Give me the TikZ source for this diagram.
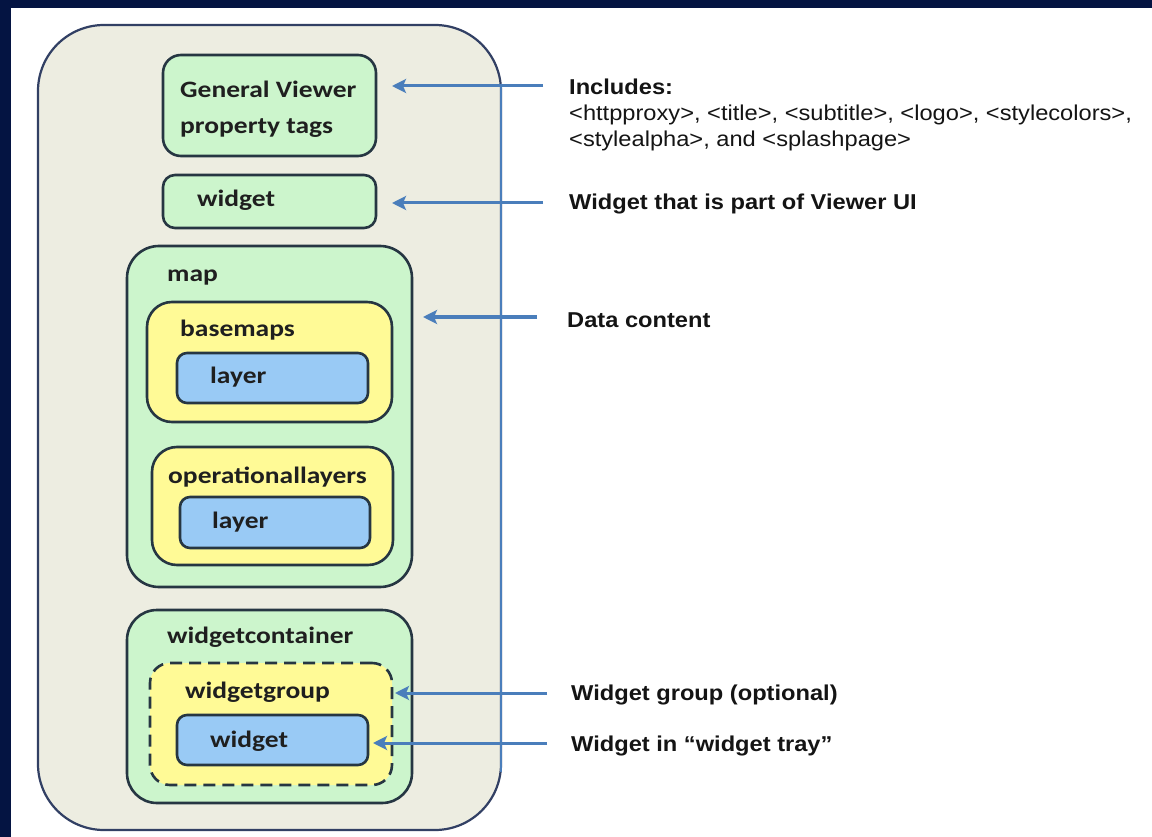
\documentclass[tikz,border=0pt]{standalone}
\usepackage{fontspec}
\setmainfont{Liberation Sans}
\newfontfamily\boxfont[FakeStretch=1.17]{Carlito}
\newfontfamily\labfont[FakeStretch=1.1]{Liberation Sans}
\usetikzlibrary{arrows.meta}
\definecolor{navy}{RGB}{4,20,66}
\definecolor{beige}{RGB}{237,237,225}
\definecolor{mint}{RGB}{204,245,204}
\definecolor{lemon}{RGB}{255,250,150}
\definecolor{sky}{RGB}{153,202,245}
\definecolor{edge}{RGB}{38,54,66}
\definecolor{outeredge}{RGB}{50,64,100}
\definecolor{arrowblue}{RGB}{74,126,187}
\begin{document}
\begin{tikzpicture}[x=1pt,y=-1pt,
  bx/.style={draw=edge,line width=2.6pt,rounded corners=#1,inner sep=0pt},
  greenbx/.style={bx=#1,fill=mint},
  yellowbx/.style={bx=#1,fill=lemon},
  bluebx/.style={bx=#1,fill=sky},
  txt/.style={anchor=base west,inner sep=0pt,text=black!88,font=\boxfont\bfseries\fontsize{23.5}{28}\selectfont},
  lab/.style={anchor=base west,inner sep=0pt,text=black!92,font=\labfont\bfseries\fontsize{21.5}{26}\selectfont},
  tag/.style={anchor=base west,inner sep=0pt,text=black!92,font=\labfont\fontsize{21.5}{26}\selectfont},
  arr/.style={draw=arrowblue,line width=3pt,-{Stealth[length=14pt,width=14pt,inset=3pt]}}]
% frame
\fill[navy] (0,0) rectangle (1152,837);
\fill[white] (11,8) rectangle (1152,837);
\useasboundingbox (0,0) rectangle (1152,837);
% outer container
\node[draw=outeredge,line width=2.2pt,fill=beige,rounded corners=66pt,minimum width=463pt,minimum height=805pt,inner sep=0pt] (outer) at (269.5,427.5) {};
% boxes
\node[greenbx=18pt,minimum width=213pt,minimum height=101pt] (gv) at (269.5,105.5) {};
\node[greenbx=12pt,minimum width=213pt,minimum height=53pt] (wd) at (269.5,201.5) {};
\node[greenbx=32pt,minimum width=285pt,minimum height=341pt] (map) at (269.5,416.5) {};
\node[yellowbx=25pt,minimum width=245pt,minimum height=120pt] (base) at (269.5,362) {};
\node[bluebx=10pt,minimum width=191pt,minimum height=50pt] (lay1) at (272.5,378) {};
\node[yellowbx=25pt,minimum width=241pt,minimum height=118pt] (oper) at (272.5,506) {};
\node[bluebx=10pt,minimum width=190pt,minimum height=51pt] (lay2) at (275,522.5) {};
\node[greenbx=30pt,minimum width=285pt,minimum height=193pt] (wc) at (269.5,706.5) {};
\node[bx=20pt,fill=lemon,dash pattern=on 12pt off 7pt,minimum width=242pt,minimum height=122pt] (wg) at (271,724) {};
\node[bluebx=10pt,minimum width=191pt,minimum height=50pt] (wd2) at (272.5,740) {};
% box texts
\node[txt] (tgv1) at (180,98) {General Viewer};
\node[txt] (tgv2) at (180,134) {property tags};
\node[txt] (twd) at (197,207) {widget};
\node[txt] (tmap) at (167,282) {map};
\node[txt] (tbase) at (180,337) {basemaps};
\node[txt] (tlay1) at (210,383) {layer};
\node[txt] (toper) at (168,483) {operationallayers};
\node[txt] (tlay2) at (212,528) {layer};
\node[txt] (twc) at (167,643) {widgetcontainer};
\node[txt] (twg) at (185,698) {widgetgroup};
\node[txt] (twd2) at (210,747) {widget};
% blue line on right edge
\coordinate (vtop) at (501,86);
\coordinate (vbot) at (501,772);
\draw[arrowblue,line width=2.4pt] (vtop) -- (vbot);
% arrows
\coordinate (s1) at (543,86);   \coordinate (e1) at (392,86);
\coordinate (s2) at (543,203);  \coordinate (e2) at (392,203);
\coordinate (s3) at (537,317);  \coordinate (e3) at (423,317);
\coordinate (s4) at (547,693);  \coordinate (e4) at (395,693);
\coordinate (s5) at (547,743);  \coordinate (e5) at (373,743);
\draw[arr] (s1) -- (e1);
\draw[arr] (s2) -- (e2);
\draw[arr] (s3) -- (e3);
\draw[arr] (s4) -- (e4);
\draw[arr] (s5) -- (e5);
% labels
\node[lab] (l1) at (569,95) {Includes:};
\node[tag] (l1a) at (569,121) {<httpproxy>, <title>, <subtitle>, <logo>, <stylecolors>,};
\node[tag] (l1b) at (569,147) {<stylealpha>, and <splashpage>};
\node[lab] (l2) at (569,210) {Widget that is part of Viewer UI};
\node[lab] (l3) at (567,327) {Data content};
\node[lab] (l4) at (571,700) {Widget group (optional)};
\node[lab] (l5) at (571,751) {Widget in “widget tray”};
\end{tikzpicture}
\end{document}
